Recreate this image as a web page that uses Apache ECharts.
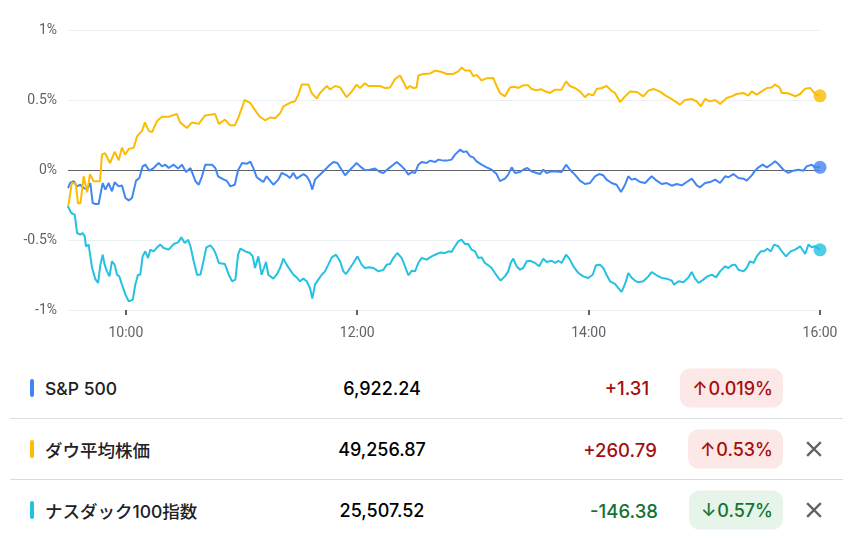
<!DOCTYPE html>
<html lang="ja">
<head>
<meta charset="utf-8">
<title>S&P 500 / ダウ平均株価 / ナスダック100指数</title>
<script src="https://cdn.jsdelivr.net/npm/echarts@6.0.0/dist/echarts.min.js"></script>
<style>
  html, body { margin: 0; padding: 0; background: #fff; }
  body { font-family: Inter, "Noto Sans CJK JP", sans-serif; color: #202124; }
  .page { position: relative; width: 856px; height: 538px; overflow: hidden; }
  #chart { position: absolute; left: 0; top: 0; width: 856px; height: 352px; }
  .table { position: absolute; left: 10px; top: 357px; width: 833px; }
  .row { position: relative; height: 61px; }
  .row + .row { border-top: 1px solid #dadce0; height: 60px; }
  .bar { position: absolute; left: 20px; top: 50%; width: 4px; height: 18px; margin-top: -9px; border-radius: 2px; }
  .name { position: absolute; left: 35px; top: 50%; transform: translateY(-50%); font-size: 17.5px; font-weight: 500; white-space: nowrap; color: #202124; }
  .price { position: absolute; left: 272px; width: 200px; top: 50%; transform: translateY(-50%); text-align: center; font-size: 18px; font-weight: 500; color: #000; }
  .right { position: absolute; right: 60px; top: 50%; transform: translateY(-50%); display: flex; align-items: center; }
  .change { font-size: 18.5px; font-weight: 500; margin-right: 31px; }
  .badge { display: inline-flex; align-items: center; height: 39px; border-radius: 10px; padding: 0 10px 0 12px; font-size: 18px; font-weight: 500; }
  .badge .arrow { margin-right: 1px; }
  .up { color: #a50e0e; }
  .down { color: #137333; }
  .badge.up { background: #fce8e6; }
  .badge.down { background: #e6f4ea; }
  .close { position: absolute; left: 796px; top: 50%; margin-top: -8px; width: 16px; height: 16px; }
</style>
</head>
<body>
<div class="page">
  <div id="chart"></div>
  <div class="table" id="table"></div>
</div>
<script>
// minutes after 9:30, change in %
const spTimes = [0, 1.2, 3, 4.7, 6.4, 8.1, 9.9, 11.6, 12.8, 14.2, 15.9, 16.8, 18, 19.4, 21.1, 22.8, 24.2, 26.3, 28, 29.8, 31.5, 33.2, 35.3, 37, 38.7, 40.1, 42.2, 44.4, 47, 48.8, 50.5, 52.2, 54.8, 57.1, 59.1, 61.2, 63.5, 66.1, 67.8, 69.5, 71.2, 74.7, 76.4, 77.8, 79.9, 82.5, 84.2, 86.5, 88.2, 90.3, 92.9, 94.6, 96.1, 97.9, 99.6, 101.3, 103, 104.8, 106.5, 109.1, 110.8, 113.4, 115.1, 116.9, 118.6, 120.3, 122.1, 123.8, 125.5, 126.7, 128.1, 129.8, 131.6, 133.3, 135, 137.6, 139.7, 141.9, 143.7, 146.3, 148, 149.7, 151.5, 154, 156.6, 159.2, 161.8, 163.6, 166.2, 168.7, 170.5, 173.1, 174.8, 176.5, 178.3, 180, 181.7, 183.4, 186, 187.8, 190.4, 192.1, 194.7, 196.4, 198.9, 200.7, 203.3, 205, 206.7, 208.5, 210.2, 211.9, 214.5, 217.1, 219.7, 222.3, 224, 226.6, 228.3, 230.1, 231.8, 234.4, 236.1, 238.2, 240.4, 243, 244.8, 246.5, 248.2, 250.8, 253.4, 256, 258.3, 260.3, 262.9, 265.5, 268.1, 270.7, 273.3, 275.5, 277.6, 279.3, 281.9, 284.5, 286.8, 288.9, 290.6, 292.3, 294.1, 296.7, 299.3, 302.7, 305.3, 307.9, 310.5, 313.1, 315.7, 318.3, 320.9, 323.5, 326.1, 327.8, 330.4, 333, 335.6, 338.2, 340.8, 342.5, 345.1, 347.7, 350.3, 352, 354.6, 356.3, 358.1, 360.3, 362.4, 365, 366.7, 368.4, 371, 373.6, 376.2, 378.8, 381.4, 383.1, 385.7, 387.5, 390];
const spValues = [-0.13, -0.09, -0.08, -0.117, -0.105, -0.128, -0.14, -0.093, -0.236, -0.243, -0.243, -0.176, -0.093, -0.14, -0.093, -0.152, -0.088, -0.117, -0.11, -0.2, -0.217, -0.2, -0.076, -0.057, 0.026, 0.038, -0.005, 0.014, 0.05, 0.026, 0.038, 0.014, 0.038, 0.01, 0.038, -0.014, 0.014, -0.08, -0.105, -0.045, 0.038, 0.038, 0.014, -0.045, -0.062, -0.08, -0.117, -0.105, -0.002, 0.05, 0.045, 0.06, 0.014, -0.052, -0.069, -0.086, -0.045, -0.076, -0.105, -0.069, -0.021, -0.038, -0.057, -0.021, -0.062, -0.045, -0.029, -0.045, -0.086, -0.14, -0.069, -0.045, -0.021, 0.002, 0.026, 0.057, 0.05, 0.002, -0.038, 0.002, 0.026, 0.05, 0.026, -0.002, 0.002, 0.01, -0.014, -0.021, 0.01, 0.038, 0.057, 0.026, 0.002, -0.033, -0.014, -0.021, 0.038, 0.057, 0.05, 0.067, 0.057, 0.074, 0.067, 0.067, 0.074, 0.11, 0.145, 0.129, 0.133, 0.098, 0.09, 0.062, 0.038, 0.019, 0.002, -0.029, -0.08, -0.062, -0.033, 0.019, -0.021, -0.014, 0.002, 0.014, -0.01, -0.021, -0.029, 0.002, -0.021, -0.01, -0.01, -0.014, 0.038, 0.002, -0.033, -0.076, -0.1, -0.093, -0.045, -0.029, -0.038, -0.069, -0.093, -0.105, -0.157, -0.105, -0.045, -0.069, -0.062, -0.086, -0.093, -0.045, -0.076, -0.1, -0.093, -0.112, -0.1, -0.11, -0.086, -0.062, -0.11, -0.124, -0.093, -0.086, -0.069, -0.093, -0.045, -0.052, -0.029, -0.057, -0.062, -0.076, -0.038, -0.005, 0.019, 0.038, 0.019, 0.043, 0.062, 0.043, 0.002, -0.021, -0.005, 0.002, -0.005, 0.026, 0.038, 0.019, 0.019];

const dowTimes = [0, 2, 4, 5.2, 6.5, 8.1, 9.9, 11.4, 13.3, 16.6, 17.6, 19.2, 21.8, 24.2, 26.3, 28, 29.6, 31.5, 34.1, 35.8, 38.4, 39.9, 41.9, 43.6, 46.2, 48.7, 52.2, 56.5, 58.1, 61.7, 64.3, 67.8, 71.1, 76.3, 78.2, 81.4, 84, 86.6, 88.5, 91.6, 94.4, 97.9, 99.6, 102.2, 104.8, 107.4, 110, 111.7, 115.1, 117.7, 119.5, 121.2, 124.7, 126.4, 129, 130.7, 134.2, 135.9, 138.5, 141.1, 144.5, 147.1, 149.7, 151.5, 154, 155.8, 158.4, 161.8, 164.4, 167, 169.6, 172.2, 173.9, 175.7, 177.4, 179.1, 180.8, 181.7, 184.3, 187.8, 190.4, 193.8, 196.4, 199.8, 202.4, 204.1, 205.9, 208.5, 210.2, 211.9, 214.5, 217.1, 220.6, 222.3, 224, 226.6, 229.2, 231.8, 233.5, 236.1, 238.7, 240.4, 243, 245.6, 247.4, 250, 252.6, 256, 258.3, 260.3, 262.9, 265.5, 268.1, 269.8, 272.4, 274.2, 276.8, 279.3, 281.9, 283.7, 286.3, 288.9, 291.5, 295, 298.4, 301, 303.6, 307.1, 309.7, 312.3, 314.8, 317.4, 320, 323.5, 326.1, 328.2, 330.4, 333, 335.6, 338.2, 341.6, 344.2, 346.8, 350.3, 352.9, 354.6, 357.2, 359.8, 362.4, 365, 366.7, 369, 370.2, 372.8, 375.4, 377.1, 379.7, 382.3, 384.9, 387.5, 390];
const dowValues = [-0.27, -0.09, -0.1, -0.24, -0.236, -0.045, -0.16, -0.03, -0.08, -0.08, 0.11, 0.12, 0.05, 0.13, 0.07, 0.16, 0.11, 0.15, 0.16, 0.24, 0.28, 0.34, 0.28, 0.27, 0.35, 0.38, 0.38, 0.4, 0.34, 0.3, 0.34, 0.33, 0.39, 0.4, 0.33, 0.36, 0.32, 0.32, 0.38, 0.5, 0.48, 0.41, 0.38, 0.355, 0.375, 0.37, 0.405, 0.455, 0.48, 0.49, 0.54, 0.61, 0.61, 0.55, 0.51, 0.55, 0.6, 0.575, 0.6, 0.59, 0.52, 0.56, 0.61, 0.585, 0.62, 0.6, 0.6, 0.6, 0.585, 0.59, 0.65, 0.675, 0.63, 0.58, 0.6, 0.585, 0.59, 0.675, 0.686, 0.69, 0.71, 0.7, 0.686, 0.686, 0.705, 0.733, 0.71, 0.71, 0.67, 0.68, 0.64, 0.655, 0.657, 0.6, 0.55, 0.526, 0.59, 0.595, 0.586, 0.605, 0.605, 0.579, 0.57, 0.576, 0.562, 0.55, 0.574, 0.574, 0.633, 0.6, 0.586, 0.562, 0.52, 0.543, 0.533, 0.579, 0.586, 0.6, 0.565, 0.55, 0.486, 0.526, 0.56, 0.557, 0.526, 0.567, 0.579, 0.56, 0.533, 0.514, 0.49, 0.467, 0.5, 0.507, 0.49, 0.455, 0.507, 0.49, 0.5, 0.471, 0.514, 0.526, 0.543, 0.55, 0.531, 0.562, 0.538, 0.562, 0.586, 0.59, 0.61, 0.59, 0.55, 0.55, 0.538, 0.526, 0.543, 0.581, 0.586, 0.543, 0.53];

const ndxTimes = [0, 1.7, 3.5, 4.7, 6.4, 7.6, 8.7, 9.3, 10.7, 12.5, 14.2, 15.6, 16.8, 18, 19, 20.2, 21.5, 22.8, 24.2, 25.4, 26.6, 28, 29.8, 31.5, 33.6, 34.9, 36.3, 37.5, 38.7, 40.1, 41.5, 42.7, 44.4, 46.2, 47.9, 49.6, 52.2, 54.8, 57.1, 58.8, 60.5, 62.3, 63.5, 65.2, 66.9, 68.7, 70.4, 71.8, 73.8, 75.6, 76.8, 78.2, 81.3, 83.4, 85.1, 86.8, 88.2, 89.4, 92, 94.4, 95.8, 97, 98.7, 100.4, 102.7, 103.9, 106.5, 108.2, 110, 111.7, 113.4, 115.1, 116.9, 118.6, 120.3, 122.1, 123.8, 125.5, 126.7, 128.1, 129.8, 131.6, 133.3, 135, 136.8, 139, 141.1, 142.8, 144.2, 146.3, 148, 150.1, 152.3, 154, 156.3, 158.4, 161, 163.6, 165.3, 167, 168.7, 170.8, 173.1, 174.8, 176.5, 178.3, 180, 181.7, 183.4, 186, 188.6, 191.2, 193, 195.5, 197.2, 198.9, 200.7, 202.4, 204.1, 205.9, 207.6, 209.3, 211.1, 212.8, 214.5, 216.2, 218, 219.7, 221.4, 223.2, 224.4, 226.6, 228.3, 229.6, 230.9, 232.7, 234.4, 236.1, 237.9, 239.6, 242.2, 244.4, 246.5, 248.2, 250.8, 252.6, 254.3, 256, 258.3, 260, 262.1, 264.7, 267.2, 269.8, 272.1, 273.8, 275.9, 277.6, 279.3, 281.1, 283.7, 285.4, 287.1, 288.9, 290.6, 292.3, 294, 295.8, 298.4, 301, 302.7, 305.3, 307.9, 310.5, 313.1, 314.3, 316.6, 319.2, 321.8, 323.5, 325.2, 327, 329.5, 331.6, 333.9, 336.1, 338.2, 340.8, 342.5, 344.2, 346, 347.7, 350.3, 352, 353.7, 355.5, 357.2, 359.3, 361, 362.7, 364.5, 366.2, 368.4, 370.2, 372.4, 374.8, 377.1, 379.7, 382.3, 384, 385.7, 387.5, 390];
const ndxValues = [-0.26, -0.307, -0.319, -0.45, -0.462, -0.45, -0.474, -0.545, -0.533, -0.7, -0.78, -0.807, -0.676, -0.605, -0.676, -0.724, -0.76, -0.652, -0.676, -0.748, -0.76, -0.819, -0.89, -0.938, -0.926, -0.819, -0.748, -0.748, -0.617, -0.581, -0.629, -0.569, -0.581, -0.552, -0.533, -0.557, -0.569, -0.529, -0.517, -0.481, -0.521, -0.498, -0.545, -0.652, -0.748, -0.748, -0.64, -0.552, -0.538, -0.569, -0.605, -0.664, -0.671, -0.748, -0.795, -0.783, -0.605, -0.562, -0.581, -0.593, -0.617, -0.7, -0.617, -0.748, -0.657, -0.748, -0.776, -0.748, -0.7, -0.633, -0.676, -0.712, -0.748, -0.767, -0.795, -0.776, -0.795, -0.843, -0.919, -0.819, -0.783, -0.748, -0.724, -0.676, -0.624, -0.605, -0.652, -0.724, -0.743, -0.7, -0.664, -0.617, -0.676, -0.7, -0.695, -0.7, -0.724, -0.712, -0.676, -0.671, -0.629, -0.593, -0.629, -0.688, -0.752, -0.719, -0.724, -0.664, -0.629, -0.64, -0.617, -0.6, -0.59, -0.593, -0.581, -0.586, -0.545, -0.51, -0.498, -0.529, -0.529, -0.569, -0.581, -0.629, -0.624, -0.664, -0.681, -0.7, -0.736, -0.771, -0.79, -0.76, -0.724, -0.664, -0.633, -0.688, -0.712, -0.7, -0.652, -0.648, -0.664, -0.688, -0.633, -0.657, -0.648, -0.664, -0.648, -0.664, -0.605, -0.633, -0.688, -0.736, -0.76, -0.771, -0.748, -0.681, -0.676, -0.7, -0.748, -0.795, -0.814, -0.843, -0.871, -0.814, -0.736, -0.77, -0.79, -0.802, -0.795, -0.76, -0.729, -0.752, -0.771, -0.776, -0.79, -0.819, -0.795, -0.802, -0.767, -0.729, -0.776, -0.807, -0.783, -0.76, -0.748, -0.767, -0.724, -0.688, -0.7, -0.681, -0.676, -0.712, -0.724, -0.7, -0.652, -0.664, -0.617, -0.581, -0.581, -0.562, -0.581, -0.533, -0.545, -0.581, -0.617, -0.581, -0.569, -0.545, -0.6, -0.533, -0.552, -0.545, -0.57];

const xTickMinutes = [30, 150, 270, 390];   // 10:00, 12:00, 14:00, 16:00

const names = ['S&P 500', 'ダウ平均株価', 'ナスダック100指数'];
const colors = ['#4285f4', '#fbbc04', '#24c1e0'];
const prices = ['6,922.24', '49,256.87', '25,507.52'];
const changes = ['+1.31', '+260.79', '-146.38'];
const changePcts = ['0.019%', '0.53%', '0.57%'];
const directions = ['up', 'up', 'down'];
const removable = [false, true, true];

function pairs(times, values) {
  return times.map((t, i) => [t, values[i]]);
}

function minutesToClock(m) {
  const total = 9 * 60 + 30 + m;
  const h = Math.floor(total / 60);
  const mm = total % 60;
  return h + ':' + String(mm).padStart(2, '0');
}

const seriesData = [
  pairs(spTimes, spValues),
  pairs(dowTimes, dowValues),
  pairs(ndxTimes, ndxValues)
];

const chart = echarts.init(document.getElementById('chart'));

const lineSeries = seriesData.map((data, i) => ({
  name: names[i],
  type: 'line',
  data: data,
  showSymbol: false,
  lineStyle: { width: 2, color: colors[i] },
  itemStyle: { color: colors[i] },
  z: 3 + i,
  markLine: i === 0 ? {
    silent: true,
    symbol: 'none',
    label: { show: false },
    lineStyle: { color: '#5f6368', width: 1, type: 'solid' },
    data: [{ yAxis: 0 }],
    z: 2
  } : undefined
}));

const dotSeries = seriesData.map((data, i) => ({
  type: 'scatter',
  data: [data[data.length - 1]],
  symbolSize: 13,
  itemStyle: { color: colors[i] },
  z: 10
}));

chart.setOption({
  animation: false,
  backgroundColor: '#fff',
  grid: { left: 68, right: 36, top: 30, bottom: 42 },
  xAxis: {
    type: 'value',
    min: 0,
    max: 390,
    axisLine: { show: false, onZero: false },
    splitLine: { show: false },
    axisTick: {
      show: true,
      customValues: xTickMinutes,
      length: 5,
      lineStyle: { color: '#5f6368', width: 2 }
    },
    axisLabel: {
      customValues: xTickMinutes,
      margin: 16,
      color: '#5f6368',
      fontSize: 14,
      fontFamily: 'Roboto',
      formatter: v => minutesToClock(v)
    }
  },
  yAxis: {
    type: 'value',
    min: -1,
    max: 1,
    interval: 0.5,
    axisLine: { show: false },
    axisTick: { show: false },
    splitLine: { lineStyle: { color: '#eceff1', width: 1 } },
    axisLabel: {
      margin: 11,
      color: '#5f6368',
      fontSize: 14,
      fontFamily: 'Roboto',
      formatter: v => v + '%'
    }
  },
  series: lineSeries.concat(dotSeries)
});

// summary rows under the chart
const table = document.getElementById('table');
names.forEach((name, i) => {
  const row = document.createElement('div');
  row.className = 'row';
  const arrow = directions[i] === 'up' ? '↑' : '↓';
  row.innerHTML =
    '<span class="bar" style="background:' + colors[i] + '"></span>' +
    '<span class="name"></span>' +
    '<span class="price">' + prices[i] + '</span>' +
    '<div class="right">' +
      '<span class="change ' + directions[i] + '">' + changes[i] + '</span>' +
      '<span class="badge ' + directions[i] + '"><span class="arrow">' + arrow + '</span>' + changePcts[i] + '</span>' +
    '</div>' +
    (removable[i]
      ? '<svg class="close" viewBox="0 0 16 16"><path d="M2 2 L14 14 M14 2 L2 14" stroke="#5f6368" stroke-width="2.4" stroke-linecap="square"/></svg>'
      : '');
  row.querySelector('.name').textContent = name;
  table.appendChild(row);
});

window.addEventListener('resize', () => chart.resize());
</script>
</body>
</html>
